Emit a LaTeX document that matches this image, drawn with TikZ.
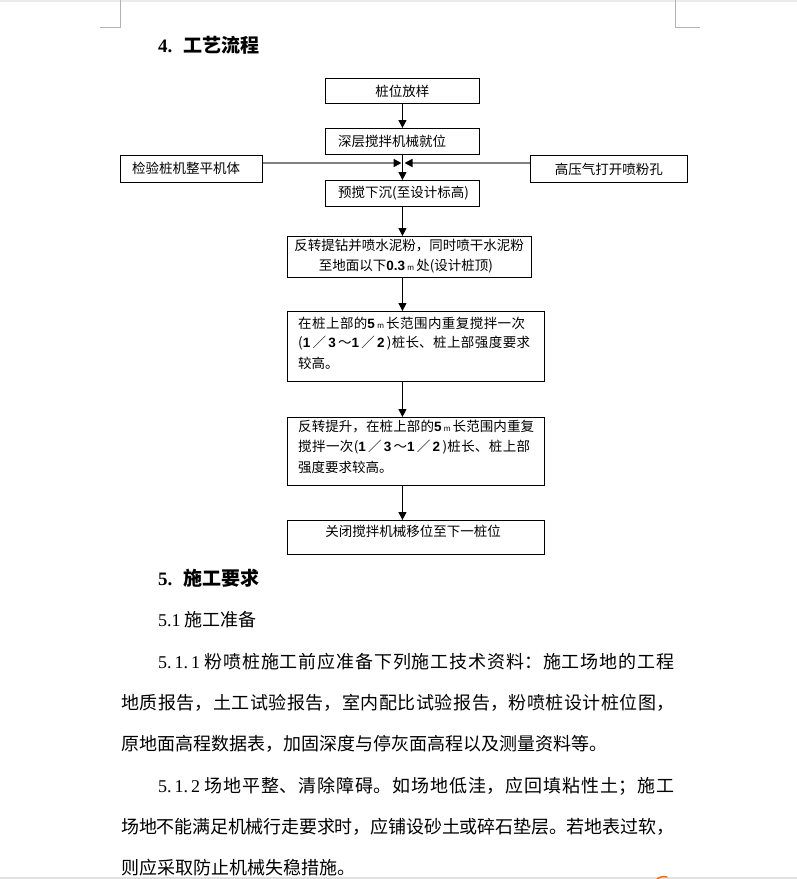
\documentclass[tikz,border=0pt]{standalone}
\usepackage{fontspec}
\setmainfont{Liberation Serif}
\setsansfont{Liberation Sans}
\newfontfamily\cjk{Noto Sans CJK SC}
\usetikzlibrary{arrows.meta}
\XeTeXlinebreaklocale "zh"
\XeTeXlinebreakskip=0pt plus 6pt minus 1pt
\newcommand\dg[1]{{\sffamily\bfseries #1}}
\newcommand\smm{{\sffamily\fontsize{8}{8}\selectfont m}}
\newcommand\jline[2]{\parbox[t]{#1}{\parindent=0pt\parfillskip=0pt\hbadness=10000\relax #2\par}}
\tikzset{
  box/.style={draw=black, line width=0.9pt, inner sep=0pt, anchor=north west},
  ft/.style={inner sep=0pt, font=\cjk\fontsize{13.5}{20}\selectfont},
  ftw/.style={ft, anchor=west},
  arr/.style={draw=black, line width=0.9pt, -{Triangle[length=8pt,width=8pt]}},
  harr/.style={draw=gray, line width=1.6pt, -{Triangle[length=8pt,width=8pt,color=black]}},
  body/.style={anchor=west, inner sep=0pt, font=\cjk\fontsize{18}{22}\selectfont},
  head/.style={anchor=west, inner sep=0pt, font=\cjk\bfseries\fontsize{19}{22}\selectfont},
  cornermark/.style={draw=black!30, line width=1pt}
}
\begin{document}
\begin{tikzpicture}[x=1pt,y=-1pt]
\fill[white] (0,0) rectangle (797,879);
\useasboundingbox (0,0) rectangle (797,879);
\fill[black!8] (0,0) rectangle (797,2);
\fill[black!12] (0,876.5) rectangle (797,879);
\draw[orange!80!red, line width=1.4pt, line cap=round] (657,879) to[bend left=25] (667,877);
% corner marks
\draw[cornermark] (100,27) -- (120,27) -- (120,0);
\draw[cornermark] (700,27) -- (675,27) -- (675,0);

% heading 4
\node[head] (h4) at (158,45) {{\rmfamily 4.}\hspace{11pt}工艺流程};

% flowchart boxes
\node[box, minimum width=154pt, minimum height=25pt] (b1) at (325,78) {};
\node[ft] (t1) at (b1.center) {桩位放样};
\node[box, minimum width=154pt, minimum height=26pt] (b2) at (325,128) {};
\node[ftw] (t2) at (338,141) {深层搅拌机械就位};
\node[box, minimum width=154pt, minimum height=26pt] (b3) at (325,180) {};
\node[ftw] (t3) at (338,193) {预搅下沉(至设计标高)};
\node[box, minimum width=142pt, minimum height=27pt] (lb) at (120,155) {};
\node[ftw] (tl) at (132,168.5) {检验桩机整平机体};
\node[box, minimum width=157pt, minimum height=27pt] (rb) at (530,155) {};
\node[ft] (tr) at (rb.center) {高压气打开喷粉孔};
\node[box, minimum width=244pt, minimum height=41pt] (b4) at (287,236) {};
\node[ft] (t4a) at (409,246) {反转提钻并喷水泥粉，同时喷干水泥粉};
\node[ft] (t4b) at (406,266) {至地面以下\dg{0.3}\,\smm\,处(设计桩顶)};
\node[box, minimum width=257pt, minimum height=70pt] (b5) at (287,311) {};
\node[ftw] (t5a) at (298,323) {\jline{227pt}{在桩上部的\dg{5}\,\smm\,长范围内重复搅拌一次}};
\node[ftw] (t5b) at (298,343) {\jline{232pt}{(\dg{1}\,／\,\dg{3}\,～\dg{1}\,／\,\dg{2}\,)桩长、桩上部强度要求}};
\node[ftw] (t5c) at (298,363) {较高。};
\node[box, minimum width=257pt, minimum height=68pt] (b6) at (287,417) {};
\node[ftw] (t6a) at (298,427) {\jline{236pt}{反转提升，在桩上部的\dg{5}\,\smm\,长范围内重复}};
\node[ftw] (t6b) at (298,447) {\jline{232pt}{搅拌一次(\dg{1}\,／\,\dg{3}\,～\dg{1}\,／\,\dg{2}\,)桩长、桩上部}};
\node[ftw] (t6c) at (298,467) {强度要求较高。};
\node[box, minimum width=257pt, minimum height=34pt] (b7) at (287,520) {};
\node[ft] (t7) at (413,531) {关闭搅拌机械移位至下一桩位};

% connectors
\coordinate (j) at (402,163);
\draw[arr] (b1.south) -- (b2.north);
\draw[arr] (b2.south) -- (b3.north);
\draw[harr] (lb.east |- j) -- ([xshift=-0.5pt]j);
\draw[harr] (rb.west |- j) -- ([xshift=2.5pt]j);
\draw[arr] (b3.south) -- (b3.south |- b4.north);
\draw[arr] (b3.south |- b4.south) -- (b3.south |- b5.north);
\draw[arr] (b3.south |- b5.south) -- (b3.south |- b6.north);
\draw[arr] (b3.south |- b6.south) -- (b3.south |- b7.north);

% section 5
\node[head] (h5) at (158,578) {{\rmfamily 5.}\hspace{11pt}施工要求};
\node[body] (p1) at (158,620) {{\rmfamily 5.1}\hspace{4pt}施工准备};
\node[body] (p2) at (158,662) {\jline{516pt}{{\rmfamily 5.\,1.\,1}\ 粉喷桩施工前应准备下列施工技术资料：施工场地的工程}};
\node[body] (p3) at (121,703) {\jline{553pt}{地质报告，土工试验报告，室内配比试验报告，粉喷桩设计桩位图，}};
\node[body] (p4) at (121,744) {原地面高程数据表，加固深度与停灰面高程以及测量资料等。};
\node[body] (p5) at (158,786) {\jline{516pt}{{\rmfamily 5.\,1.\,2}\ 场地平整、清除障碍。如场地低洼，应回填粘性土；施工}};
\node[body] (p6) at (121,827) {\jline{553pt}{场地不能满足机械行走要求时，应铺设砂土或碎石垫层。若地表过软，}};
\node[body] (p7) at (121,868) {则应采取防止机械失稳措施。};
\end{tikzpicture}
\end{document}
